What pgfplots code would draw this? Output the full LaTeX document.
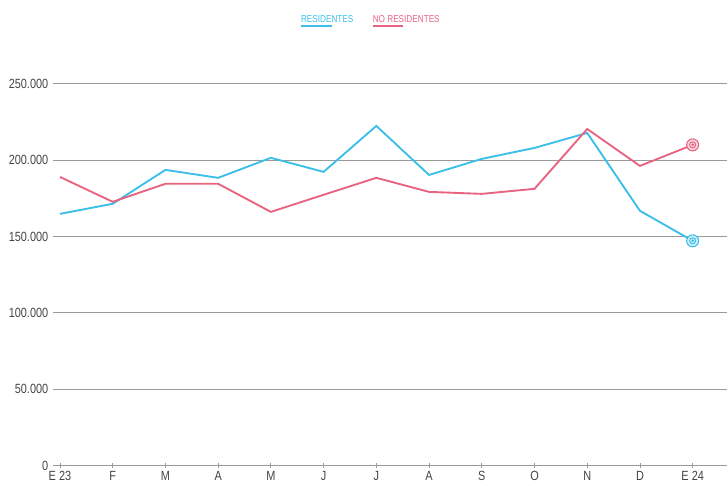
\documentclass[border=0pt]{standalone}
\usepackage{fontspec}
\setmainfont{Liberation Sans}[FakeStretch=0.82]
\usepackage{pgfplots}
\pgfplotsset{compat=1.18}
\definecolor{resid}{HTML}{3BBFE8}
\definecolor{nores}{HTML}{E8637F}
\definecolor{gridgray}{HTML}{9A9A9A}
\definecolor{labgray}{HTML}{444444}
\begin{document}
\begin{tikzpicture}
\begin{axis}[
  scale only axis,
  width=506.25pt, height=286.5pt,
  xmin=-0.133, xmax=12.66,
  ymin=0, ymax=250000,
  scaled y ticks=false,
  axis x line*=bottom, axis y line*=left,
  y axis line style={draw=none},
  x axis line style={draw=gridgray, line width=0.8pt},
  xtick={0,...,12},
  xticklabels={E 23,F,M,A,M,J,J,A,S,O,N,D,E 24},
  ytick={0,50000,100000,150000,200000,250000},
  yticklabels={0,50.000,100.000,150.000,200.000,250.000},
  ymajorgrids, grid style={draw=gridgray, line width=0.7pt},
  ytick style={draw=none},
  xtick style={draw=gridgray, line width=0.6pt},
  tick align=center, major tick length=4pt,
  tick label style={font=\fontsize{10}{12}\selectfont, text=labgray},
  xticklabel style={yshift=1pt},
  yticklabel style={xshift=2pt},
  legend style={draw=none, fill=none, at={(0.47,1.14)}, anchor=south,
    legend columns=2, font=\fontsize{7.5}{9}\selectfont,
    /tikz/every even column/.append style={column sep=10pt}},
  legend image code/.code={\path[draw=none, use as bounding box] (0,0) rectangle (0.02cm,0.01cm);
    \draw[#1, overlay, line width=1.3pt] (0.1cm,-0.15cm) -- (0.9cm,-0.15cm);},
]
\addplot[resid, line width=1.4pt] coordinates {
(0,164900) (1,171500) (2,193700) (3,188500) (4,201600) (5,192400) (6,222500)
(7,190400) (8,200900) (9,208100) (10,217900) (11,166900) (12,147250)};
\addlegendentry{\textcolor{resid}{RESIDENTES}}
\addplot[nores, line width=1.4pt] coordinates {
(0,189100) (1,172800) (2,184600) (3,184600) (4,166200) (5,177400) (6,188500)
(7,179300) (8,178000) (9,181300) (10,220500) (11,196300) (12,210100)};
\addlegendentry{\textcolor{nores}{NO RESIDENTES}}
\addplot[resid, only marks, mark=*, mark size=4.5pt, fill=resid!25, line width=0.8pt, forget plot] coordinates {(12,147250)};
\addplot[resid, only marks, mark=o, mark size=2.3pt, line width=0.7pt, forget plot] coordinates {(12,147250)};
\addplot[resid, only marks, mark=*, mark size=0.8pt, forget plot] coordinates {(12,147250)};
\addplot[nores, only marks, mark=*, mark size=4.5pt, fill=nores!25, line width=0.8pt, forget plot] coordinates {(12,210100)};
\addplot[nores, only marks, mark=o, mark size=2.3pt, line width=0.7pt, forget plot] coordinates {(12,210100)};
\addplot[nores, only marks, mark=*, mark size=0.8pt, forget plot] coordinates {(12,210100)};
\end{axis}
\useasboundingbox (-39.75pt,-14.25pt) rectangle (506.25pt,349.5pt);
\end{tikzpicture}
\end{document}
